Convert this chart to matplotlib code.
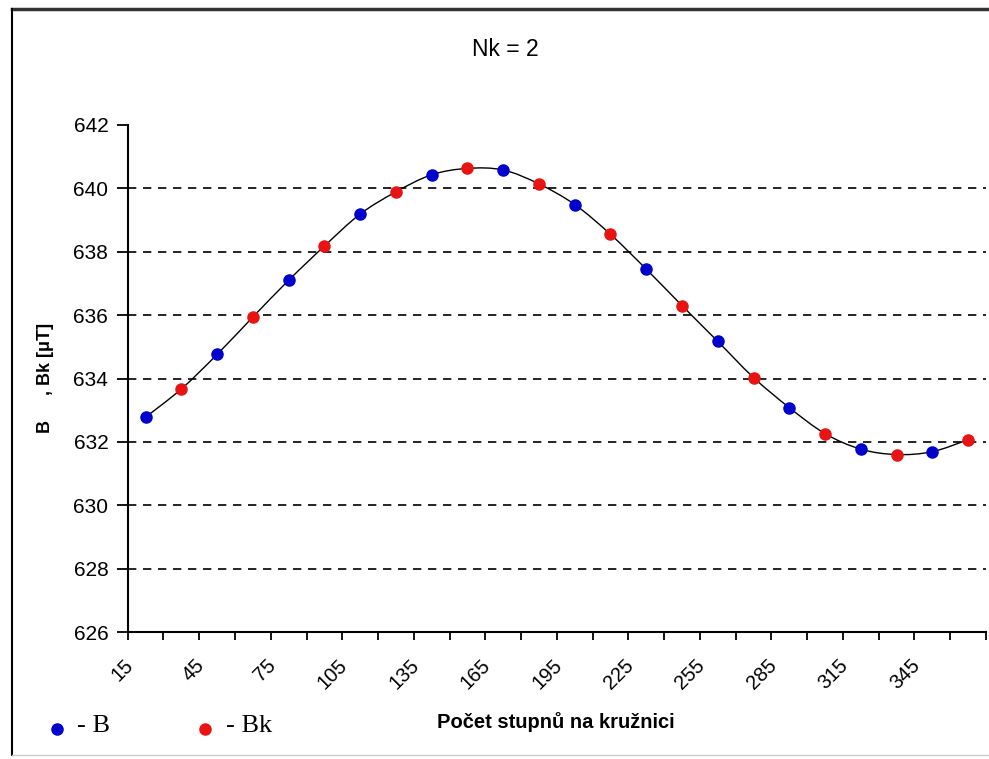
import matplotlib
matplotlib.use("Agg")
import matplotlib.pyplot as plt
import matplotlib.transforms as mtransforms
from matplotlib.path import Path
from matplotlib.patches import PathPatch
from matplotlib.lines import Line2D

# data
angles = [15, 30, 45, 60, 75, 90, 105, 120, 135, 150, 165, 180,
          195, 210, 225, 240, 255, 270, 285, 300, 315, 330, 345, 360]
b_vals = [632.78, 634.76, 637.10, 639.19, 640.43, 640.58,
          639.49, 637.45, 635.17, 633.08, 631.77, 631.69]      # 15, 45, ... 345
bk_vals = [633.67, 635.94, 638.18, 639.89, 640.63, 640.14,
           638.55, 636.30, 634.03, 632.26, 631.60, 632.07]     # 30, 60, ... 360
tick_labels = ["15", "45", "75", "105", "135", "165",
               "195", "225", "255", "285", "315", "345"]
y_ticks = [626, 628, 630, 632, 634, 636, 638, 640, 642]

title = "Nk = 2"
xlabel = "Počet stupnů na kružnici"
ylabel = "B     , Bk [μT]"

W, H = 989, 759
fig = plt.figure(figsize=(W / 100, H / 100), dpi=100)
ax = fig.add_axes([127.7 / W, 1 - 632 / H, (986 - 127.7) / W, (632 - 125) / H])

# combined series in category order (B, Bk alternate)
vals = []
for b, bk in zip(b_vals, bk_vals):
    vals += [b, bk]
xs = list(range(len(angles)))

# smoothed line like Excel: cubic bezier through all points
verts = [(xs[0], vals[0])]
codes = [Path.MOVETO]
n = len(xs)
for i in range(n - 1):
    p0 = (xs[max(i - 1, 0)], vals[max(i - 1, 0)])
    p1 = (xs[i], vals[i])
    p2 = (xs[i + 1], vals[i + 1])
    p3 = (xs[min(i + 2, n - 1)], vals[min(i + 2, n - 1)])
    c1 = (p1[0] + (p2[0] - p0[0]) / 6, p1[1] + (p2[1] - p0[1]) / 6)
    c2 = (p2[0] - (p3[0] - p1[0]) / 6, p2[1] - (p3[1] - p1[1]) / 6)
    verts += [c1, c2, p2]
    codes += [Path.CURVE4] * 3
ax.add_patch(PathPatch(Path(verts, codes), facecolor='none', edgecolor='black', lw=1.0, zorder=3))

ax.plot(xs[0::2], b_vals, 'o', color='#0000cc', ms=8, mec='#0000cc', zorder=4)
ax.plot(xs[1::2], bk_vals, 'o', color='#e81414', ms=8, mec='#e81414', zorder=4)

ax.set_xlim(-0.5, n - 0.5)
ax.set_ylim(626, 642)

for yv in y_ticks[1:-1]:
    ax.axhline(yv, color='black', lw=1.2, ls=(0, (5, 4)), zorder=1)

ax.spines['top'].set_visible(False)
ax.spines['right'].set_visible(False)
ax.spines['left'].set_linewidth(1.5)
ax.spines['bottom'].set_linewidth(1.5)

ax.set_yticks(y_ticks)
ax.set_yticklabels([str(v) for v in y_ticks], family='Liberation Sans', fontsize=15)
ax.tick_params(axis='y', direction='out', length=8, width=1.3, pad=6)

# category boundaries as major ticks, labels on minor ticks
ax.set_xticks([i - 0.5 for i in range(n + 1)])
ax.set_xticklabels([])
ax.tick_params(axis='x', which='major', direction='out', length=6, width=1.3)
ax.set_xticks(xs[0::2], minor=True)
ax.set_xticklabels(tick_labels, minor=True, rotation=45, ha='right', va='top',
                   family='Liberation Sans', fontsize=14.5)
ax.tick_params(axis='x', which='minor', length=0, pad=17)
off = mtransforms.ScaledTranslation(-9 / 100, 0, fig.dpi_scale_trans)
for lab in ax.get_xticklabels(minor=True):
    lab.set_transform(lab.get_transform() + off)

fig.text(505 / W, 1 - 50 / H, title, ha='center', va='center', fontsize=16.5,
         family='Liberation Sans')
fig.text(46 / W, 1 - 378 / H, ylabel, rotation=90, ha='center', va='center',
         fontsize=13, fontweight='bold', family='Liberation Sans')
fig.text(556 / W, 1 - 722 / H, xlabel, ha='center', va='center',
         fontsize=14.5, fontweight='bold', family='Liberation Sans')

# legend drawn as in the original sheet
fig.add_artist(Line2D([57 / W], [1 - 729 / H], marker='o', color='#0000cc', ms=8, ls='none'))
fig.text(77 / W, 1 - 726 / H, "- B", ha='left', va='center', fontsize=19, family='Liberation Serif')
fig.add_artist(Line2D([205 / W], [1 - 729 / H], marker='o', color='#e81414', ms=8, ls='none'))
fig.text(226 / W, 1 - 726 / H, "- Bk", ha='left', va='center', fontsize=19, family='Liberation Serif')

# outer chart frame (right side runs off the picture)
fig.add_artist(Line2D([12 / W, 1.0], [1 - 9 / H, 1 - 9 / H], color='#333333', lw=2.5))
fig.add_artist(Line2D([12 / W, 12 / W], [1 - 755 / H, 1 - 9 / H], color='black', lw=1.5))
fig.add_artist(Line2D([12 / W, 1.0], [1 - 755 / H, 1 - 755 / H], color='#cccccc', lw=1.0))

fig.savefig("out.png", dpi=100)
